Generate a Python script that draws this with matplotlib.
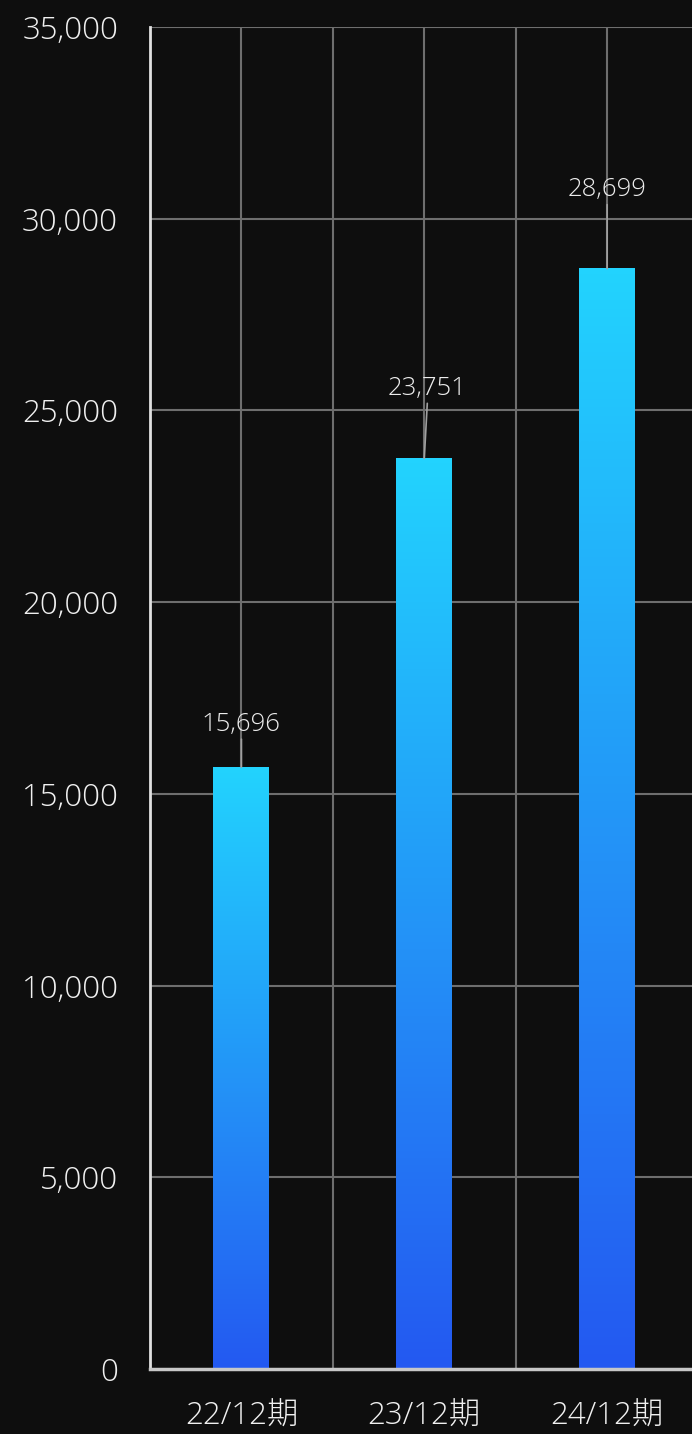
import numpy as np
import matplotlib.pyplot as plt
from matplotlib.colors import LinearSegmentedColormap

# 売上推移
periods = ['22/12期', '23/12期', '24/12期']
values = [15696, 23751, 28699]
yticks = [0, 5000, 10000, 15000, 20000, 25000, 30000, 35000]

plt.rcParams['font.family'] = ['Open Sans', 'Noto Sans CJK JP', 'DejaVu Sans']
plt.rcParams['font.weight'] = 'light'

bg = '#0e0e0e'
fig = plt.figure(figsize=(6.92, 14.34), dpi=100, facecolor=bg)
ax = fig.add_axes([150 / 692, 65 / 1434, 542 / 692, 1342 / 1434])
ax.set_facecolor(bg)

x = np.arange(len(periods))
width = 0.306

# グラデーションのバー (上がシアン、下が青)
cmap = LinearSegmentedColormap.from_list('bar', ['#2459f1', '#22d3fe'])
grad = np.linspace(1, 0, 256).reshape(-1, 1)
for xi, v in zip(x, values):
    ax.imshow(grad, cmap=cmap, aspect='auto', interpolation='bicubic',
              extent=[xi - width / 2, xi + width / 2, 0, v], zorder=3)
ax.set_xlim(-0.5, 2.464)
ax.set_ylim(0, 35000)

# グリッド
for gx in np.arange(0, 2.6, 0.5):
    ax.axvline(gx, color='#6e6e6e', lw=1.5, zorder=1)
for gy in yticks[1:]:
    ax.axhline(gy, color='#6e6e6e', lw=1.5, zorder=1)

# 値ラベルと引き出し線
label_dy = [43, 70, 79]
label_dx = [0, 3, 0]
for xi, v, dy, dx in zip(x, values, label_dy, label_dx):
    ax.annotate(f'{v:,}', xy=(xi, v), xytext=(dx * 0.72, dy * 0.72),
                textcoords='offset points', ha='center', va='center',
                fontsize=18.5, color='#ececec', zorder=5)
    ax.annotate('', xy=(xi, v), xytext=(dx * 0.72, (dy - 15) * 0.72),
                textcoords='offset points',
                arrowprops=dict(arrowstyle='-', color='#a0a0a0', lw=1.2,
                                shrinkA=0, shrinkB=0), zorder=4)

ax.set_xticks(x)
ax.set_xticklabels(periods)
ax.set_yticks(yticks)
ax.set_yticklabels([f'{t:,}' for t in yticks])
ax.tick_params(axis='x', length=0, pad=23, labelsize=22.5, labelcolor='#f0f0f0')
ax.tick_params(axis='y', length=0, pad=23, labelsize=22.5, labelcolor='#f0f0f0')

for s in ['top', 'right']:
    ax.spines[s].set_visible(False)
ax.spines['left'].set_color('#e0e0e0')
ax.spines['left'].set_linewidth(2)
ax.spines['bottom'].set_color('#c8c8c8')
ax.spines['bottom'].set_linewidth(2.5)
ax.spines['left'].set_zorder(6)
ax.spines['bottom'].set_zorder(6)

fig.savefig('out.png', dpi=100, facecolor=bg)
